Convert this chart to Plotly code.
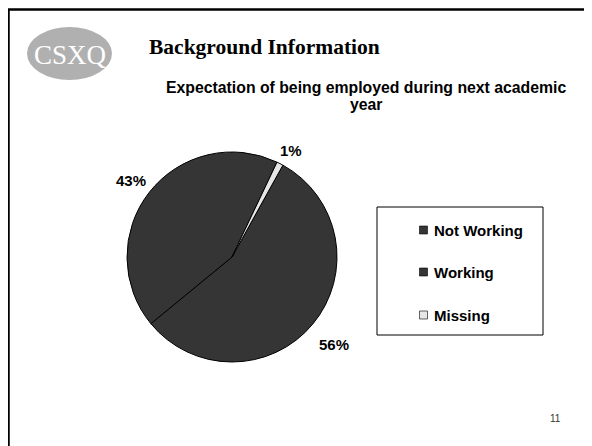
import math
import plotly.graph_objects as go

# page body has an 8px margin, so the figure is drawn offset by (8, 8)
OFF = 8
W, H = 592 - OFF, 446 - OFF

labels = ["Not Working", "Working", "Missing"]
values = [56, 43, 1]
colors = ["#353535", "#353535", "#e6e6e6"]
title = "Background Information"
subtitle_lines = ["Expectation of being employed during next academic", "year"]
page_no = "11"


def px(x):
    return (x - OFF) / W


def py(y):
    return 1 - (y - OFF) / H


fig = go.Figure()

# pie geometry (screen px)
cx, cy, r = 232, 257, 105
rot = 29
fig.add_trace(go.Pie(
    labels=labels,
    values=values,
    sort=False,
    direction="clockwise",
    rotation=rot,
    marker=dict(colors=colors, line=dict(color="#000000", width=1)),
    textinfo="none",
    domain=dict(x=[px(cx - r), px(cx + r)], y=[py(cy + r), py(cy - r)]),
    showlegend=False,
    hoverinfo="label+percent",
))

shapes = []
annotations = []

# percent labels placed outside each slice, derived from the values
total = sum(values)
cum = 0
lab_fs = 15
for v in values:
    mid = math.radians(rot + 360 * (cum + v / 2) / total)
    cum += v
    txt = f"{round(100 * v / total)}%"
    w = lab_fs * (0.556 * (len(txt) - 1) + 0.889)
    h = lab_fs * 0.72
    ext = abs(math.sin(mid)) * w / 2 + abs(math.cos(mid)) * h / 2
    d = r + 10 + ext
    lx = cx + d * math.sin(mid) + 2
    ly = cy - d * math.cos(mid) + 4
    annotations.append(dict(text="<b>" + txt + "</b>", x=px(lx), y=py(ly), xref="paper", yref="paper",
                            showarrow=False, xanchor="center", yanchor="middle",
                            font=dict(family="Liberation Sans", size=lab_fs, color="#000000")))

# slide border (top & left visible)
shapes.append(dict(type="rect", xref="paper", yref="paper",
                   x0=px(8.5), x1=px(640), y0=py(480), y1=py(9.5),
                   line=dict(color="#000000", width=2.5), fillcolor="rgba(0,0,0,0)"))

# logo ellipse
shapes.append(dict(type="circle", xref="paper", yref="paper",
                   x0=px(27), x1=px(112), y0=py(80), y1=py(27),
                   line=dict(width=0), fillcolor="#b0b0b0"))
annotations.append(dict(text="CSXQ", x=px(70), y=py(55), xref="paper", yref="paper",
                        showarrow=False, xanchor="center", yanchor="middle",
                        font=dict(family="Liberation Serif, serif", size=27, color="#ffffff")))

# title
annotations.append(dict(text="<b>" + title + "</b>", x=px(147), y=py(47), xref="paper", yref="paper",
                        showarrow=False, xanchor="left", yanchor="middle",
                        font=dict(family="Liberation Serif", size=21.5, color="#000000")))
for i, line in enumerate(subtitle_lines):
    annotations.append(dict(text="<b>" + line + "</b>", x=px(366), y=py(87 + 17 * i),
                            xref="paper", yref="paper",
                            showarrow=False, xanchor="center", yanchor="middle",
                            font=dict(family="Liberation Sans", size=15.8, color="#000000")))

# legend box
shapes.append(dict(type="rect", xref="paper", yref="paper",
                   x0=px(377), x1=px(543), y0=py(335), y1=py(207),
                   line=dict(color="#000000", width=1), fillcolor="#ffffff"))
leg_y = [230, 272, 315]
for lab, col, yy in zip(labels, colors, leg_y):
    shapes.append(dict(type="rect", xref="paper", yref="paper",
                       x0=px(419.5), x1=px(427.5), y0=py(yy + 4), y1=py(yy - 4),
                       line=dict(color="#000000", width=0.6), fillcolor=col))
    annotations.append(dict(text="<b>" + lab + "</b>", x=px(432), y=py(yy), xref="paper", yref="paper",
                            showarrow=False, xanchor="left", yanchor="middle",
                            font=dict(family="Liberation Sans", size=15, color="#000000")))

# page number
annotations.append(dict(text=page_no, x=px(555), y=py(418), xref="paper", yref="paper",
                        showarrow=False, xanchor="center", yanchor="middle",
                        font=dict(family="Liberation Sans", size=10, color="#333333")))

fig.update_layout(
    width=W, height=H, autosize=False,
    margin=dict(l=0, r=0, t=0, b=0),
    paper_bgcolor="#ffffff", plot_bgcolor="#ffffff",
    shapes=shapes, annotations=annotations,
    showlegend=False,
)

fig.write_html("out.html")
